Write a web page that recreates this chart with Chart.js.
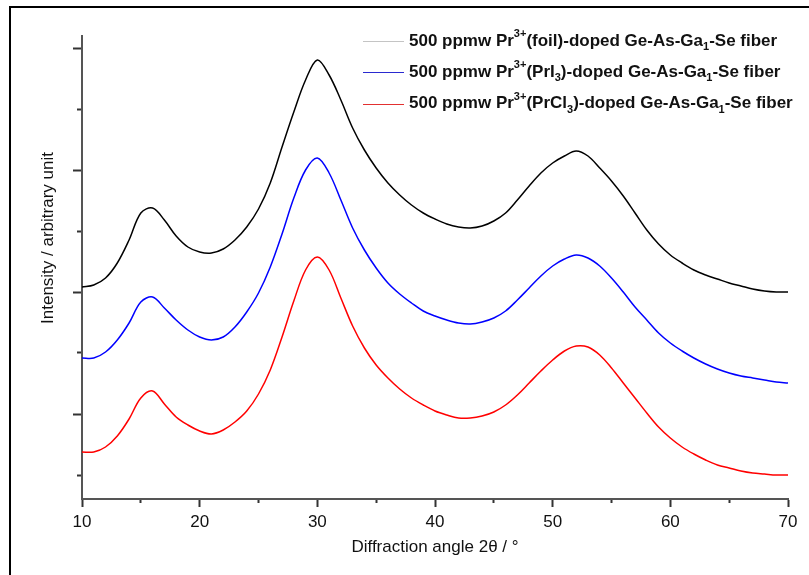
<!DOCTYPE html>
<html><head><meta charset="utf-8">
<script src="https://cdn.jsdelivr.net/npm/chart.js@4/dist/chart.umd.min.js"></script>
<style>
html,body{margin:0;padding:0;background:#fff;}
#wrap{position:relative;width:809px;height:575px;overflow:hidden;background:#fff;}
#frame{position:absolute;left:9px;top:6px;width:900px;height:700px;border-top:2px solid #000;border-left:2px solid #000;pointer-events:none;}
canvas{display:block;}
</style></head><body>
<div id="wrap"><canvas id="c" width="809" height="575"></canvas><div id="frame"></div></div>
<script>
// ---- data (diffraction angle in degrees, intensity in arbitrary units with vertical offsets) ----
const angles = [10,11,12,13,14,15,16,17,18,19,20,21,22,23,24,25,26,27,28,29,30,31,32,33,34,35,36,37,38,39,40,41,42,43,44,45,46,47,48,49,50,51,52,53,54,55,56,57,58,59,60,61,62,63,64,65,66,67,68,69,70];
const foil = [212,214,221,236,259,286,291,279,263,252,247,246,250,259,272,290,316,352,387,419,439,424,399,371,349,331,316,304,294,286,280,275,272,271,273,278,286,299,313,326,336,343,348,343,331,318,303,286,269,255,244,236,229,224,220,216,213,210,208,207,207];
const prI3 = [141,141,147,159,176,197,202,191,179,169,162,159,162,172,187,206,232,265,301,329,341,326,299,271,249,231,216,205,196,188,183,179,176,175,177,181,188,199,211,223,233,240,244,241,233,221,207,192,179,166,156,148,141,135,130,126,123,121,119,117,116];
const prCl3 = [47,47,52,63,80,101,108,95,82,74,68,65,69,77,88,105,129,162,198,229,242,229,201,173,151,134,121,110,101,94,88,84,81,81,83,87,94,104,116,128,139,148,153,152,144,131,116,101,86,72,61,52,45,39,34,31,28,26,25,24,24];
const xMajorTicks = [10,20,30,40,50,60,70];
const xMinorTicks = [15,25,35,45,55,65];
const yMajorTicks = [85,207,329,451];
const yMinorTicks = [24,146,268,390];
const seriesNames = [
  '500 ppmw Pr3+(foil)-doped Ge-As-Ga1-Se fiber',
  '500 ppmw Pr3+(PrI3)-doped Ge-As-Ga1-Se fiber',
  '500 ppmw Pr3+(PrCl3)-doped Ge-As-Ga1-Se fiber'
];
const legendParts = [
  [['500 ppmw Pr',''],['3+','sup'],['(foil)-doped Ge-As-Ga',''],['1','sub'],['-Se fiber','']],
  [['500 ppmw Pr',''],['3+','sup'],['(PrI',''],['3','sub'],[')-doped Ge-As-Ga',''],['1','sub'],['-Se fiber','']],
  [['500 ppmw Pr',''],['3+','sup'],['(PrCl',''],['3','sub'],[')-doped Ge-As-Ga',''],['1','sub'],['-Se fiber','']]
];
const xTitle = 'Diffraction angle 2θ / °';
const yTitle = 'Intensity / arbitrary unit';

// ---- styles ----
const FONT = "'Liberation Sans', Arial, sans-serif";
const lineColors = ['#000000','#0000ff','#ff0000'];
const legendLineColors = ['#c4c4c4','#2a2ad0','#e23030'];
const AXIS = '#555555', TICK = '#333333', TEXT = '#111111';

const legendPlugin = {
  id: 'customLegend',
  afterDraw(chart) {
    const ctx = chart.ctx;
    ctx.save();
    legendParts.forEach((parts, i) => {
      const y = 41 + i * 31.3;
      ctx.strokeStyle = legendLineColors[i];
      ctx.lineWidth = 1;
      ctx.beginPath(); ctx.moveTo(363, Math.round(y) + 0.5); ctx.lineTo(404, Math.round(y) + 0.5); ctx.stroke();
      let x = 409;
      parts.forEach(([t, kind]) => {
        const size = kind ? 11 : 17;
        ctx.font = 'bold ' + size + 'px ' + FONT;
        ctx.textBaseline = 'middle';
        ctx.textAlign = 'left';
        ctx.fillStyle = TEXT;
        const dy = kind === 'sup' ? -7 : (kind === 'sub' ? 6 : 0);
        ctx.fillText(t, x, y + dy);
        x += ctx.measureText(t).width;
      });
    });
    ctx.restore();
  }
};

const yTitlePlugin = {
  id: 'yTitle',
  afterDraw(chart) {
    const ctx = chart.ctx;
    ctx.save();
    ctx.translate(48, 238);
    ctx.rotate(-Math.PI / 2);
    ctx.font = '17px ' + FONT;
    ctx.fillStyle = TEXT;
    ctx.textAlign = 'center';
    ctx.textBaseline = 'middle';
    ctx.fillText(yTitle, 0, 0);
    ctx.restore();
  }
};

const mk = vals => angles.map((a, i) => ({x: a, y: vals[i]}));
const series = [foil, prI3, prCl3];

new Chart(document.getElementById('c'), {
  type: 'line',
  data: {
    datasets: series.map((s, i) => ({
      label: seriesNames[i],
      data: mk(s),
      borderColor: lineColors[i],
      borderWidth: 1.5,
      pointRadius: 0,
      fill: false,
      tension: 0.35
    }))
  },
  options: {
    responsive: false,
    animation: false,
    devicePixelRatio: 1,
    layout: {padding: {top: 36, right: 21, left: 0, bottom: 0}},
    plugins: {legend: {display: false}, tooltip: {enabled: false}},
    scales: {
      x: {
        type: 'linear', position: 'bottom', weight: 1, min: 10, max: 70,
        afterBuildTicks: s => { s.ticks = xMajorTicks.map(v => ({value: v})); },
        afterFit: s => { s.height = 76; },
        border: {display: true, color: AXIS, width: 2},
        grid: {drawOnChartArea: false, tickLength: 8, tickColor: TICK, tickWidth: 2},
        ticks: {font: {family: FONT, size: 17}, color: TEXT, padding: 5, maxRotation: 0, autoSkip: false},
        title: {display: true, text: xTitle, font: {family: FONT, size: 17}, color: TEXT, padding: {top: 0, bottom: 17}}
      },
      x2: {
        type: 'linear', position: 'bottom', weight: 0, min: 10, max: 70,
        afterBuildTicks: s => { s.ticks = xMinorTicks.map(v => ({value: v})); },
        afterFit: s => { s.height = 0; },
        border: {display: false},
        grid: {drawOnChartArea: false, tickLength: 4, tickColor: TICK, tickWidth: 2},
        ticks: {display: false}
      },
      y: {
        type: 'linear', position: 'left', weight: 1, min: 0, max: 463,
        afterBuildTicks: s => { s.ticks = yMajorTicks.map(v => ({value: v})); },
        afterFit: s => { s.width = 82; },
        border: {display: true, color: AXIS, width: 2},
        grid: {drawOnChartArea: false, tickLength: 9, tickColor: TICK, tickWidth: 2},
        ticks: {display: false}
      },
      y2: {
        type: 'linear', position: 'left', weight: 0, min: 0, max: 463,
        afterBuildTicks: s => { s.ticks = yMinorTicks.map(v => ({value: v})); },
        afterFit: s => { s.width = 0; },
        border: {display: false},
        grid: {drawOnChartArea: false, tickLength: 5, tickColor: TICK, tickWidth: 2},
        ticks: {display: false}
      }
    }
  },
  plugins: [legendPlugin, yTitlePlugin]
});
</script>
</body></html>
